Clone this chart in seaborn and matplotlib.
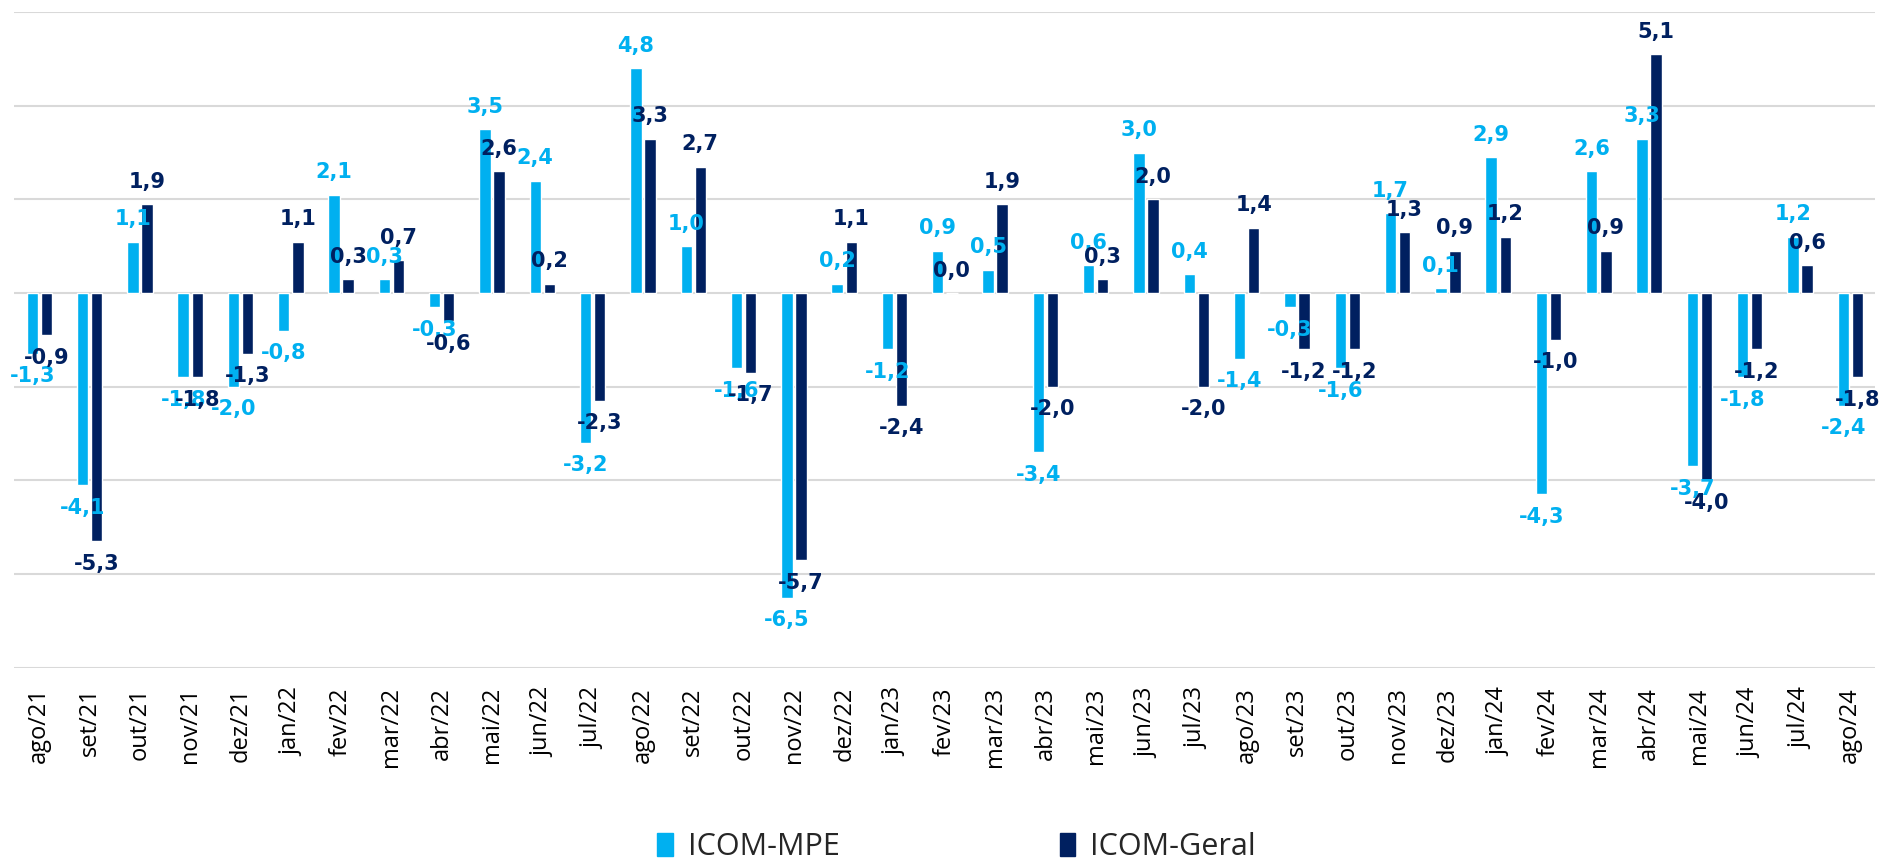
import matplotlib
matplotlib.use("Agg")
import matplotlib.pyplot as plt
import seaborn as sns
import pandas as pd
from matplotlib.patches import Patch

# meses de ago/21 a ago/24
meses = ["ago/21", "set/21", "out/21", "nov/21", "dez/21",
         "jan/22", "fev/22", "mar/22", "abr/22", "mai/22", "jun/22",
         "jul/22", "ago/22", "set/22", "out/22", "nov/22", "dez/22",
         "jan/23", "fev/23", "mar/23", "abr/23", "mai/23", "jun/23",
         "jul/23", "ago/23", "set/23", "out/23", "nov/23", "dez/23",
         "jan/24", "fev/24", "mar/24", "abr/24", "mai/24", "jun/24",
         "jul/24", "ago/24"]

icom_mpe = [-1.3, -4.1, 1.1, -1.8, -2.0,
            -0.8, 2.1, 0.3, -0.3, 3.5, 2.4,
            -3.2, 4.8, 1.0, -1.6, -6.5, 0.2,
            -1.2, 0.9, 0.5, -3.4, 0.6, 3.0,
            0.4, -1.4, -0.3, -1.6, 1.7, 0.1,
            2.9, -4.3, 2.6, 3.3, -3.7, -1.8,
            1.2, -2.4]

icom_geral = [-0.9, -5.3, 1.9, -1.8, -1.3,
              1.1, 0.3, 0.7, -0.6, 2.6, 0.2,
              -2.3, 3.3, 2.7, -1.7, -5.7, 1.1,
              -2.4, 0.0, 1.9, -2.0, 0.3, 2.0,
              -2.0, 1.4, -1.2, -1.2, 1.3, 0.9,
              1.2, -1.0, 0.9, 5.1, -4.0, -1.2,
              0.6, -1.8]

series = ["ICOM-MPE", "ICOM-Geral"]
cores = {"ICOM-MPE": "#00B0F0", "ICOM-Geral": "#002060"}

df = pd.DataFrame({
    "mes": meses * 2,
    "valor": icom_mpe + icom_geral,
    "serie": [series[0]] * len(meses) + [series[1]] * len(meses),
})

sns.set_style("white")
plt.rcParams["font.family"] = ["Open Sans", "DejaVu Sans"]

fig, ax = plt.subplots(figsize=(18.83, 8.65), dpi=100)
fig.subplots_adjust(left=0.0075, right=0.996, top=0.986, bottom=0.228)

sns.barplot(data=df, x="mes", y="valor", hue="serie", hue_order=series,
            palette=cores, width=0.56, gap=0.19, saturation=1,
            legend=False, ax=ax)

# rótulos de dados com vírgula decimal
for cont, vals, serie in zip(ax.containers, [icom_mpe, icom_geral], series):
    ax.bar_label(cont, labels=[f"{v:.1f}".replace(".", ",") for v in vals],
                 padding=9, color=cores[serie], fontsize=15,
                 fontweight="bold", family="DejaVu Sans")

ax.set_xlim(-0.5, len(meses) - 0.5)
ax.set_ylim(-8, 6)
ax.set_yticks(range(-8, 7, 2))
ax.yaxis.grid(True, color="#D9D9D9", linewidth=1.5)
ax.set_axisbelow(True)
ax.tick_params(axis="y", left=False, labelleft=False)
ax.tick_params(axis="x", labelrotation=90, labelsize=17, pad=14, length=0,
               colors="#000000")
for s in ax.spines.values():
    s.set_visible(False)
ax.set_xlabel("")
ax.set_ylabel("")

handles = [Patch(color=cores[s]) for s in series]
fig.legend(handles, series, loc="center", bbox_to_anchor=(0.508, 0.021),
           ncol=2, frameon=False, fontsize=22, handlelength=0.5,
           handleheight=0.8, handletextpad=0.5, columnspacing=7.2)

fig.savefig("out.png", dpi=100)
